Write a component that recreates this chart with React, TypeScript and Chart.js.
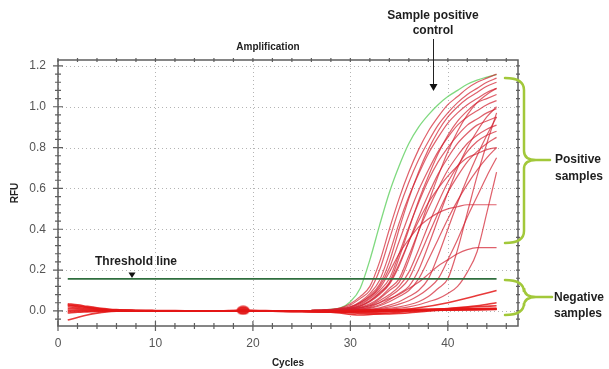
import React, { useEffect, useRef } from "react";
import { Chart, registerables } from "chart.js";

Chart.register(...registerables);

// ---------- data ----------
const xTicks = [0, 10, 20, 30, 40];
const yTicks = [0.0, 0.2, 0.4, 0.6, 0.8, 1.0, 1.2];

const ampCycles = [26, 27, 28, 29, 30, 31, 32, 33, 34, 35, 36, 37, 38, 39, 40, 41, 42, 43, 44, 45];
const baseCycles = [1, 2, 3, 4, 5, 6, 8, 10, 13, 16, 19, 22, 25, 28, 31, 34, 37, 40, 43, 45];

const positiveControl = [0.002, 0.004, 0.007, 0.015, 0.045, 0.11, 0.25, 0.42, 0.58, 0.71, 0.82, 0.9, 0.96, 1.01, 1.05, 1.08, 1.11, 1.13, 1.145, 1.157];

const amp1 = [0.004, 0.005, 0.008, 0.015, 0.035, 0.07, 0.12, 0.24, 0.4, 0.55, 0.68, 0.79, 0.88, 0.95, 1.01, 1.05, 1.09, 1.12, 1.14, 1.16];
const amp2 = [0.003, 0.004, 0.006, 0.012, 0.028, 0.06, 0.1, 0.2, 0.35, 0.5, 0.63, 0.74, 0.83, 0.91, 0.97, 1.02, 1.06, 1.09, 1.12, 1.14];
const amp3 = [0.002, 0.003, 0.005, 0.01, 0.02, 0.045, 0.085, 0.15, 0.28, 0.43, 0.56, 0.67, 0.77, 0.85, 0.92, 0.97, 1.01, 1.04, 1.07, 1.09];
const amp4 = [0.002, 0.003, 0.004, 0.008, 0.018, 0.04, 0.075, 0.13, 0.24, 0.4, 0.55, 0.68, 0.79, 0.88, 0.95, 1.0, 1.04, 1.07, 1.1, 1.12];
const amp5 = [0.002, 0.002, 0.004, 0.007, 0.015, 0.035, 0.065, 0.12, 0.21, 0.34, 0.47, 0.59, 0.69, 0.78, 0.85, 0.91, 0.95, 0.98, 1.01, 1.03];
const amp6 = [0.001, 0.002, 0.003, 0.006, 0.013, 0.03, 0.06, 0.1, 0.157, 0.28, 0.41, 0.53, 0.64, 0.73, 0.8, 0.86, 0.91, 0.94, 0.97, 0.99];
const amp7 = [0.001, 0.002, 0.003, 0.005, 0.012, 0.025, 0.05, 0.09, 0.14, 0.26, 0.4, 0.54, 0.66, 0.77, 0.86, 0.93, 0.98, 1.02, 1.04, 1.06];
const amp8 = [0.001, 0.002, 0.003, 0.005, 0.01, 0.022, 0.045, 0.08, 0.13, 0.22, 0.34, 0.46, 0.57, 0.67, 0.75, 0.82, 0.87, 0.91, 0.93, 0.95];
const amp9 = [0.001, 0.001, 0.002, 0.004, 0.008, 0.018, 0.035, 0.065, 0.11, 0.157, 0.27, 0.39, 0.5, 0.6, 0.69, 0.76, 0.82, 0.86, 0.89, 0.91];
const amp10 = [0.001, 0.001, 0.002, 0.004, 0.008, 0.016, 0.03, 0.06, 0.1, 0.14, 0.25, 0.39, 0.53, 0.66, 0.78, 0.88, 0.96, 1.02, 1.06, 1.09];
const amp11 = [0.0, 0.001, 0.002, 0.003, 0.006, 0.013, 0.025, 0.05, 0.08, 0.12, 0.19, 0.3, 0.42, 0.53, 0.63, 0.71, 0.78, 0.83, 0.86, 0.88];
const amp12 = [0.0, 0.001, 0.002, 0.003, 0.005, 0.01, 0.02, 0.04, 0.07, 0.105, 0.157, 0.26, 0.37, 0.48, 0.58, 0.66, 0.73, 0.78, 0.82, 0.85];
const amp13 = [0.0, 0.0, 0.001, 0.002, 0.004, 0.008, 0.016, 0.03, 0.055, 0.085, 0.12, 0.2, 0.32, 0.45, 0.58, 0.7, 0.8, 0.88, 0.95, 1.0];
const amp14 = [0.0, 0.0, 0.001, 0.002, 0.003, 0.006, 0.012, 0.025, 0.045, 0.07, 0.1, 0.157, 0.25, 0.35, 0.45, 0.54, 0.62, 0.69, 0.75, 0.8];
const amp15 = [0.0, 0.0, 0.0, 0.001, 0.002, 0.004, 0.008, 0.015, 0.028, 0.045, 0.07, 0.1, 0.157, 0.27, 0.4, 0.53, 0.65, 0.76, 0.86, 0.95];
const amp16 = [0.0, 0.0, 0.0, 0.001, 0.002, 0.003, 0.006, 0.011, 0.02, 0.033, 0.05, 0.075, 0.11, 0.157, 0.25, 0.35, 0.46, 0.56, 0.66, 0.75];
const amp17 = [0.0, 0.0, 0.0, 0.0, 0.001, 0.002, 0.003, 0.005, 0.008, 0.013, 0.02, 0.03, 0.045, 0.06, 0.085, 0.12, 0.19, 0.29, 0.48, 0.68];
const amp18 = [0.002, 0.003, 0.005, 0.01, 0.02, 0.04, 0.07, 0.11, 0.19, 0.28, 0.35, 0.41, 0.45, 0.48, 0.5, 0.51, 0.52, 0.52, 0.52, 0.52];
const amp19 = [0.0, 0.001, 0.002, 0.004, 0.008, 0.015, 0.025, 0.04, 0.06, 0.08, 0.11, 0.14, 0.18, 0.22, 0.25, 0.28, 0.3, 0.31, 0.31, 0.31];
const amp20 = [0.0, 0.0, 0.0, 0.001, 0.002, 0.003, 0.005, 0.008, 0.013, 0.02, 0.03, 0.045, 0.07, 0.11, 0.157, 0.3, 0.48, 0.66, 0.82, 0.97];
const amp21 = [0.001, 0.002, 0.003, 0.005, 0.011, 0.024, 0.048, 0.085, 0.135, 0.23, 0.34, 0.44, 0.53, 0.6, 0.66, 0.71, 0.75, 0.77, 0.79, 0.8];

const neg1 = [0.035, 0.03, 0.022, 0.015, 0.01, 0.006, 0.003, 0.002, 0.001, 0.0, 0.003, 0.001, -0.002, 0.0, 0.004, 0.006, 0.008, 0.01, 0.012, 0.013];
const neg2 = [0.028, 0.022, 0.016, 0.011, 0.007, 0.004, 0.002, 0.001, 0.0, -0.001, 0.002, 0.0, -0.003, -0.002, 0.002, 0.004, 0.006, 0.008, 0.01, 0.011];
const neg3 = [0.02, 0.016, 0.012, 0.008, 0.005, 0.003, 0.001, 0.0, -0.001, -0.002, 0.0, -0.002, -0.004, -0.003, 0.0, 0.003, 0.005, 0.007, 0.008, 0.009];
const neg4 = [0.012, 0.01, 0.007, 0.005, 0.003, 0.002, 0.001, 0.0, 0.0, 0.0, 0.002, 0.0, -0.001, -0.004, -0.001, 0.002, 0.004, 0.006, 0.007, 0.008];
const neg5 = [0.004, 0.004, 0.003, 0.002, 0.002, 0.001, 0.0, 0.0, -0.001, -0.001, 0.001, -0.001, -0.002, -0.005, -0.008, -0.004, 0.002, 0.005, 0.006, 0.007];
const neg6 = [-0.004, -0.002, -0.001, 0.0, 0.0, 0.0, 0.0, -0.001, -0.002, -0.002, 0.0, -0.002, -0.003, -0.006, -0.02, -0.01, 0.0, 0.004, 0.006, 0.008];
const neg7 = [-0.01, -0.007, -0.005, -0.003, -0.002, -0.001, 0.0, 0.0, -0.001, -0.001, 0.001, -0.001, -0.002, -0.004, -0.012, -0.015, -0.005, 0.01, 0.02, 0.025];
const neg8 = [-0.045, -0.032, -0.02, -0.011, -0.005, -0.002, 0.0, 0.0, 0.0, 0.0, 0.002, 0.0, -0.002, -0.003, -0.005, -0.002, 0.003, 0.012, 0.025, 0.04];
const neg9 = [0.03, 0.025, 0.018, 0.012, 0.007, 0.004, 0.002, 0.001, 0.0, -0.001, 0.001, 0.0, -0.002, -0.003, -0.002, 0.0, 0.015, 0.04, 0.075, 0.1];

const blobCycle = [19];
const blobValue = [0.003];

const thresholdCycles = [1, 45];
const thresholdValue = 0.157;

const ampSeries = [amp1, amp2, amp3, amp4, amp5, amp6, amp7, amp8, amp9, amp10, amp11, amp12, amp13, amp14, amp15, amp16, amp17, amp18, amp19, amp20, amp21];
const negSeries = [neg1, neg2, neg3, neg4, neg5, neg6, neg7, neg8, neg9];

const FONT = "'Liberation Sans', Arial, sans-serif";

function toPoints(xs: number[], ys: number[]) {
  return ys.map((v, i) => ({ x: xs[i], y: v }));
}

const overlay = {
  id: "overlay",
  beforeDatasetsDraw(chart: any) {
    const { ctx, chartArea: a, scales } = chart;
    const x = scales.x;
    const y = scales.y;
    ctx.save();
    ctx.strokeStyle = "#b4b4b4";
    ctx.lineWidth = 1;
    ctx.setLineDash([1, 3]);
    for (const v of xTicks) {
      const px = Math.round(x.getPixelForValue(v)) + 0.5;
      ctx.beginPath();
      ctx.moveTo(px, a.top);
      ctx.lineTo(px, a.bottom);
      ctx.stroke();
    }
    for (const v of yTicks) {
      const py = Math.round(y.getPixelForValue(v)) + 0.5;
      ctx.beginPath();
      ctx.moveTo(a.left, py);
      ctx.lineTo(a.right, py);
      ctx.stroke();
    }
    ctx.restore();
  },
  afterDraw(chart: any) {
    const { ctx, chartArea: a, scales } = chart;
    const x = scales.x;
    const y = scales.y;
    ctx.save();
    // frame
    ctx.strokeStyle = "#5e5e5e";
    ctx.lineWidth = 1.5;
    ctx.strokeRect(a.left, a.top, a.right - a.left, a.bottom - a.top);
    ctx.lineWidth = 1.2;
    // x ticks
    for (let c = 0; c <= 46; c += 2) {
      const px = x.getPixelForValue(c);
      const major = c % 10 === 0;
      const l = major ? 5 : 3;
      ctx.beginPath();
      ctx.moveTo(px, a.bottom - l);
      ctx.lineTo(px, a.bottom + l);
      ctx.moveTo(px, a.top - 2);
      ctx.lineTo(px, a.top + 2);
      ctx.stroke();
    }
    // y ticks
    for (let k = -1; k <= 30; k++) {
      const v = k * 0.04;
      const py = y.getPixelForValue(v);
      const major = k % 5 === 0;
      const l = major ? 5 : 3;
      ctx.beginPath();
      ctx.moveTo(a.left - l, py);
      ctx.lineTo(a.left + l, py);
      ctx.moveTo(a.right - 2, py);
      ctx.lineTo(a.right + 2, py);
      ctx.stroke();
    }

    // title and axis titles
    ctx.fillStyle = "#222";
    ctx.textAlign = "center";
    ctx.textBaseline = "middle";
    ctx.font = `bold 10px ${FONT}`;
    ctx.fillText("Amplification", 268, 47);
    ctx.fillText("Cycles", (a.left + a.right) / 2, 363);
    ctx.save();
    ctx.translate(15, (a.top + a.bottom) / 2);
    ctx.rotate(-Math.PI / 2);
    ctx.fillText("RFU", 0, 0);
    ctx.restore();

    // annotations
    ctx.font = `bold 12px ${FONT}`;
    ctx.fillStyle = "#1e1e1e";
    ctx.fillText("Sample positive", 433, 16);
    ctx.fillText("control", 433, 31);
    ctx.strokeStyle = "#222";
    ctx.lineWidth = 1;
    ctx.beginPath();
    ctx.moveTo(433.5, 39);
    ctx.lineTo(433.5, 86);
    ctx.stroke();
    ctx.fillStyle = "#111";
    ctx.beginPath();
    ctx.moveTo(433.5, 91);
    ctx.lineTo(429.5, 84);
    ctx.lineTo(437.5, 84);
    ctx.closePath();
    ctx.fill();

    ctx.fillStyle = "#1e1e1e";
    ctx.fillText("Threshold line", 136, 262);
    ctx.fillStyle = "#111";
    ctx.beginPath();
    ctx.moveTo(132, 278);
    ctx.lineTo(128.5, 272.5);
    ctx.lineTo(135.5, 272.5);
    ctx.closePath();
    ctx.fill();

    // braces
    ctx.strokeStyle = "#a2c83a";
    ctx.lineWidth = 2.5;
    ctx.lineCap = "round";
    const brace = (y1: number, y2: number, ym: number, xs: number, xb: number, xt: number) => {
      ctx.beginPath();
      ctx.moveTo(xs, y1);
      ctx.quadraticCurveTo(xb, y1, xb, y1 + 12);
      ctx.lineTo(xb, ym - 9);
      ctx.quadraticCurveTo(xb, ym, xb + 12, ym);
      ctx.lineTo(xt, ym);
      ctx.moveTo(xb + 12, ym);
      ctx.quadraticCurveTo(xb, ym, xb, ym + 9);
      ctx.lineTo(xb, y2 - 12);
      ctx.quadraticCurveTo(xb, y2, xs, y2);
      ctx.stroke();
    };
    brace(78, 243, 160, 505, 524, 550);
    brace(280, 315, 297, 505, 524, 552);

    ctx.fillStyle = "#1e1e1e";
    ctx.textAlign = "left";
    ctx.fillText("Positive", 555, 160);
    ctx.fillText("samples", 555, 177);
    ctx.fillText("Negative", 554, 298);
    ctx.fillText("samples", 554, 314);
    ctx.restore();
  },
};

function makeBlob() {
  const c = document.createElement("canvas");
  c.width = 14;
  c.height = 10;
  const g = c.getContext("2d")!;
  g.fillStyle = "rgba(225,20,20,0.95)";
  g.beginPath();
  g.ellipse(7, 5, 6.5, 4.5, 0, 0, Math.PI * 2);
  g.fill();
  return c;
}

export default function App() {
  const ref = useRef<HTMLCanvasElement | null>(null);
  useEffect(() => {
    if (!ref.current) return;
    const lineBase = {
      type: "line" as const,
      pointRadius: 0,
      fill: false,
      tension: 0.4,
      cubicInterpolationMode: "monotone" as const,
    };
    const datasets: any[] = [];
    datasets.push({
      ...lineBase,
      label: "Threshold",
      data: thresholdCycles.map((c) => ({ x: c, y: thresholdValue })),
      borderColor: "#2f6e3e",
      borderWidth: 1.6,
      tension: 0,
    });
    datasets.push({
      type: "line",
      label: "blob",
      data: toPoints(blobCycle, blobValue),
      showLine: false,
      pointStyle: makeBlob(),
      pointRadius: 5,
    });
    negSeries.forEach((s, i) =>
      datasets.push({
        ...lineBase,
        label: "neg" + i,
        data: toPoints(baseCycles, s),
        borderColor: "rgba(228,22,22,0.85)",
        borderWidth: 1.6,
      })
    );
    ampSeries.forEach((s, i) =>
      datasets.push({
        ...lineBase,
        label: "amp" + i,
        data: toPoints(ampCycles, s),
        borderColor: "rgba(210,35,50,0.72)",
        borderWidth: 1.2,
      })
    );
    datasets.push({
      ...lineBase,
      label: "Positive control",
      data: toPoints(ampCycles, positiveControl),
      borderColor: "rgba(120,215,120,0.95)",
      borderWidth: 1.3,
    });

    const chart = new Chart(ref.current, {
      type: "line",
      data: { datasets },
      plugins: [overlay],
      options: {
        responsive: false,
        animation: false,
        parsing: true,
        layout: { padding: { left: 0, top: 60, right: 91, bottom: 0 } },
        plugins: { legend: { display: false }, tooltip: { enabled: false }, title: { display: false } },
        scales: {
          x: {
            type: "linear",
            min: 0,
            max: 47.2,
            afterBuildTicks: (s: any) => {
              s.ticks = xTicks.map((v) => ({ value: v }));
            },
            afterFit: (s: any) => {
              s.height = 43;
            },
            grid: { display: false, drawTicks: false },
            border: { display: false },
            ticks: {
              padding: 10,
              color: "#555",
              font: { family: FONT, size: 12 },
              maxRotation: 0,
              autoSkip: false,
            },
          },
          y: {
            type: "linear",
            min: -0.074,
            max: 1.229,
            afterBuildTicks: (s: any) => {
              s.ticks = yTicks.map((v) => ({ value: v }));
            },
            afterFit: (s: any) => {
              s.width = 58;
            },
            grid: { display: false, drawTicks: false },
            border: { display: false },
            ticks: {
              padding: 12,
              color: "#555",
              font: { family: FONT, size: 12 },
              callback: (v: any) => Number(v).toFixed(1),
              autoSkip: false,
            },
          },
        },
      },
    } as any);
    return () => chart.destroy();
  }, []);
  return (
    <div style={{ position: "fixed", left: 0, top: 0, width: 609, height: 369, background: "#fff" }}>
      <canvas ref={ref} width={609} height={369} style={{ display: "block" }} />
    </div>
  );
}
